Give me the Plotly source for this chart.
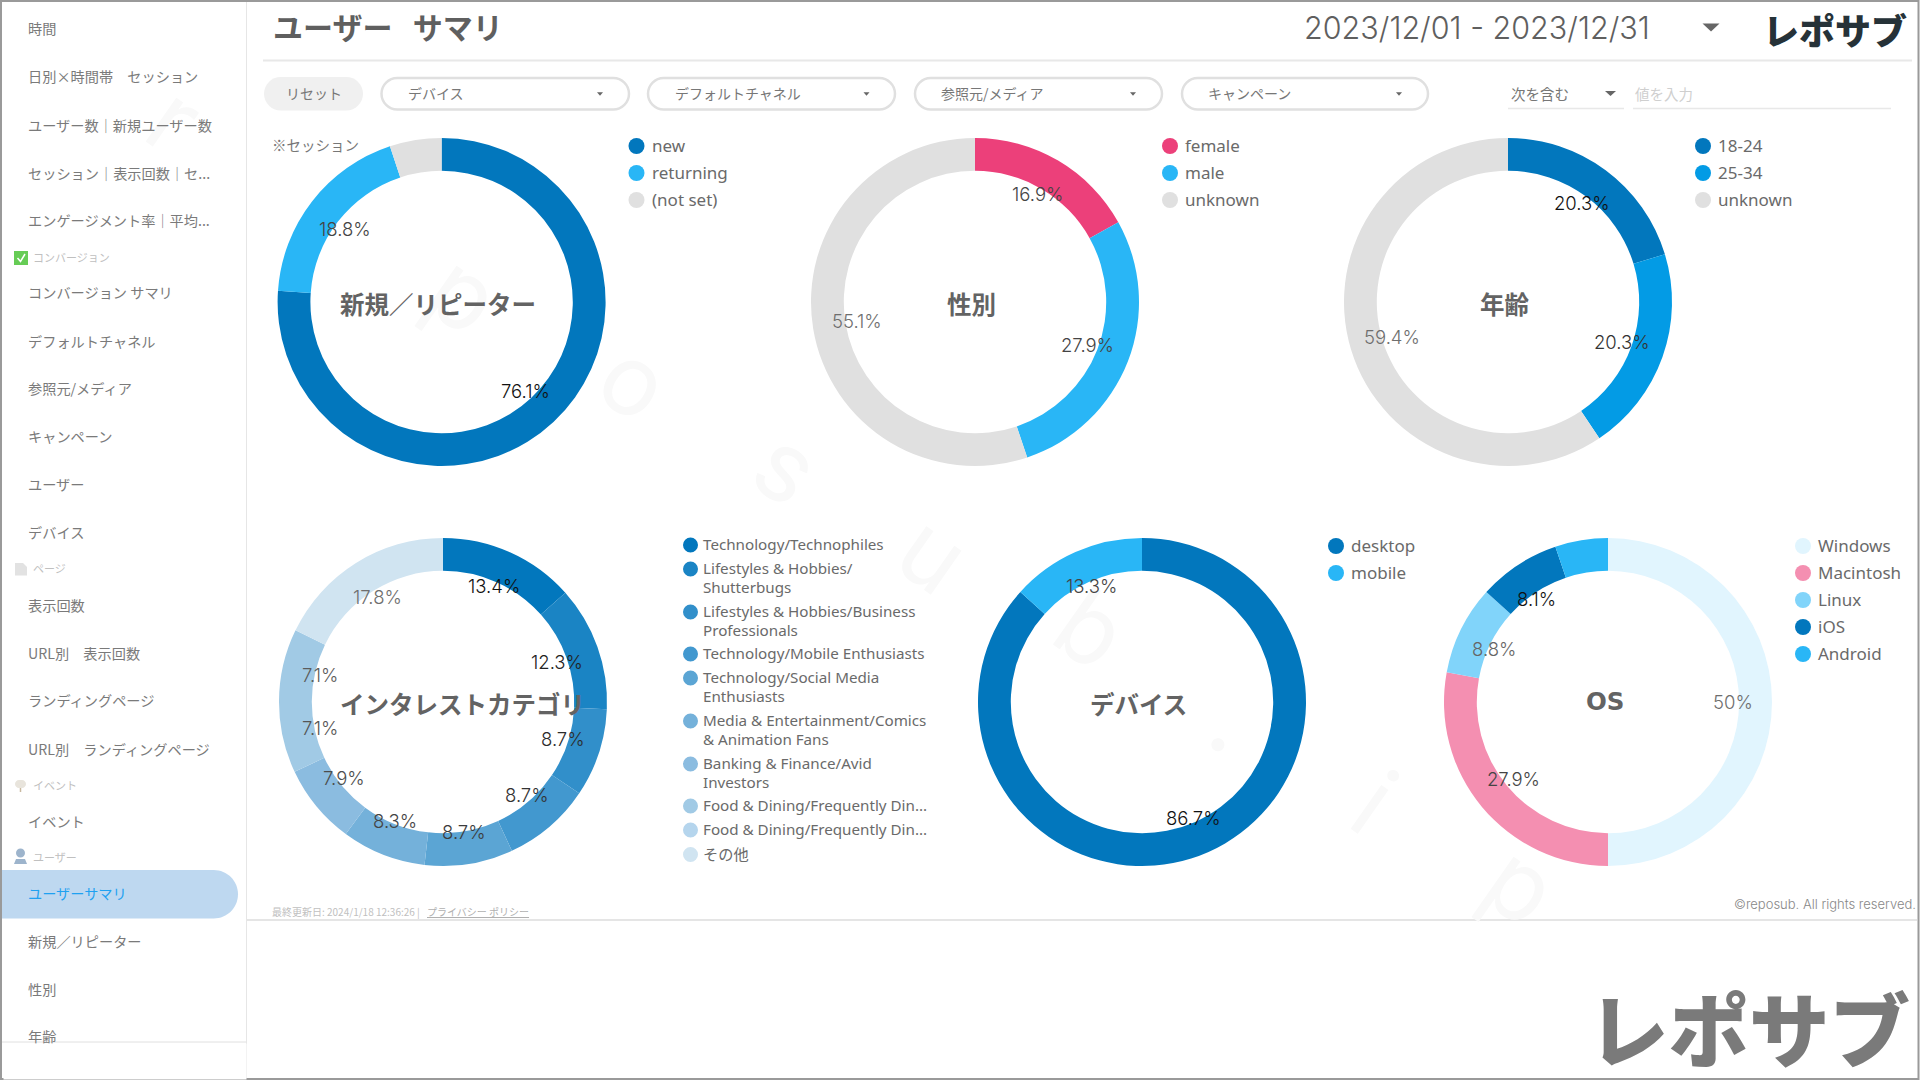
import math

import plotly.graph_objects as go

W, H = 1920, 1080

# chart values
user_names = ['new', 'returning', '(not set)']
user_values = [76.1, 18.8, 5.1]
gender_names = ['female', 'male', 'unknown']
gender_values = [16.9, 27.9, 55.1]
age_names = ['18-24', '25-34', 'unknown']
age_values = [20.3, 20.3, 59.4]
interest_names = [
    'Technology/Technophiles',
    'Lifestyles & Hobbies/<br>Shutterbugs',
    'Lifestyles & Hobbies/Business<br>Professionals',
    'Technology/Mobile Enthusiasts',
    'Technology/Social Media<br>Enthusiasts',
    'Media & Entertainment/Comics<br>& Animation Fans',
    'Banking & Finance/Avid<br>Investors',
    'Food & Dining/Frequently Din...',
    'Food & Dining/Frequently Din...',
    'その他',
]
interest_values = [13.4, 12.3, 8.7, 8.7, 8.7, 8.3, 7.9, 7.1, 7.1, 17.8]
device_names = ['desktop', 'mobile']
device_values = [86.7, 13.3]
os_names = ['Windows', 'Macintosh', 'Linux', 'iOS', 'Android']
os_values = [50, 27.9, 8.8, 8.1, 5.2]

# menu and header text
menu_items = [
    '時間', '日別×時間帯　セッション', 'ユーザー数｜新規ユーザー数', 'セッション｜表示回数｜セ...',
    'エンゲージメント率｜平均...', 'コンバージョン サマリ', 'デフォルトチャネル', '参照元/メディア',
    'キャンペーン', 'ユーザー', 'デバイス', '表示回数', 'URL別　表示回数', 'ランディングページ',
    'URL別　ランディングページ', 'イベント', 'ユーザーサマリ', '新規／リピーター', '性別', '年齢',
]
menu_sections = ['コンバージョン', 'ページ', 'イベント', 'ユーザー']
filter_names = ['デバイス', 'デフォルトチャネル', '参照元/メディア', 'キャンペーン']

# styling
BLUE, SKY, GREY = '#0277bd', '#29b6f6', '#e0e0e0'
JP = 'Noto Sans CJK JP, Noto Sans, sans-serif'
LATIN = 'Noto Sans, Noto Sans CJK JP, sans-serif'
NUM = 'Inter, Lato, sans-serif'
TEXT = '#6a6a6a'

menu_y = [28, 76.5, 124.5, 172.5, 220.5, 292, 340.5, 388, 436, 484, 532, 604.5, 653, 700, 749, 820.5, 892.5, 941, 989, 1036]
section_y = [257, 568, 785, 857]
filter_x = [(381.5, 629, 407, 600), (648, 895, 674, 866.5), (915, 1162, 940, 1133), (1182, 1428, 1207, 1399)]
watermark = [('r', 175, 118), ('p', 465, 293), ('o', 635, 380), ('s', 787, 467), ('u', 934, 553),
             ('b', 1092, 628), ('.', 1235, 720), ('i', 1375, 802), ('p', 1522, 884)]

interest_colors = ['#0277bd', '#1a84c4', '#318fca', '#4298cf', '#5ba5d4', '#74b1da', '#8bbce0', '#a1cae5', '#b5d5ed', '#d0e4f1']
interest_text = ['#111111', '#222222', '#2c2c2c', '#333333', '#3c3c3c', '#444444', '#4c4c4c', '#555555', '#5c5c5c', '#6e6e6e']

charts = [
    dict(names=user_names, values=user_values, colors=[BLUE, SKY, GREY], text=['#111111', '#444444', '#666666'],
         cx=441.6, cy=302, title='新規／リピーター', tx=438, ty=303,
         lx=636.5, ltx=650.5, ly=[146, 173, 200]),
    dict(names=gender_names, values=gender_values, colors=['#ec407a', SKY, GREY], text=['#444444', '#444444', '#6e6e6e'],
         cx=975, cy=302, title='性別', tx=971.5, ty=303,
         lx=1170, ltx=1184, ly=[146, 173, 200]),
    dict(names=age_names, values=age_values, colors=[BLUE, '#039be5', GREY], text=['#111111', '#333333', '#6e6e6e'],
         cx=1508, cy=302, title='年齢', tx=1505, ty=303,
         lx=1703, ltx=1717, ly=[146, 173, 200]),
    dict(names=interest_names, values=interest_values, colors=interest_colors, text=interest_text,
         cx=443, cy=702, title='インタレストカテゴリ', tx=462, ty=703,
         lx=690.5, ltx=701.5, ly=[545, 569, 612, 654, 678, 721, 764, 806, 830, 854.5], lsize=15.2),
    dict(names=device_names, values=device_values, colors=[BLUE, SKY], text=['#111111', '#444444'],
         cx=1142, cy=702, title='デバイス', tx=1138, ty=703.5,
         lx=1336, ltx=1350, ly=[546, 573]),
    dict(names=os_names, values=os_values, colors=['#e1f5fe', '#f48fb1', '#81d4fa', BLUE, SKY],
         text=['#6e6e6e', '#444444', '#666666', '#111111', '#444444'],
         cx=1608, cy=702, title='OS', tx=1605, ty=701, tfont='DejaVu Sans',
         lx=1803, ltx=1817, ly=[546, 573, 600, 627, 654]),
]
R = 164

annotations = []
shapes = []


def px(x):
    return x / W


def py(y):
    return 1 - y / H


def put(text, x, y, size=14, color=TEXT, family=JP, anchor='left', yanchor='middle', weight=None, angle=0, **kw):
    font = dict(size=size, color=color, family=family)
    if weight:
        font['weight'] = weight
    annotations.append(dict(text=text, x=px(x), y=py(y), xref='paper', yref='paper', showarrow=False,
                            xanchor=anchor, yanchor=yanchor, align='left', font=font, textangle=angle,
                            borderpad=0, **kw))


def line(x0, y0, x1, y1, color, width=1):
    shapes.append(dict(type='line', xref='paper', yref='paper', x0=px(x0), y0=py(y0), x1=px(x1), y1=py(y1),
                       line=dict(color=color, width=width)))


def path(d, fill=None, color=None, width=0):
    shape = dict(type='path', xref='paper', yref='paper', path=d, line=dict(color=color or 'rgba(0,0,0,0)', width=width))
    if fill:
        shape['fillcolor'] = fill
    shapes.append(shape)


def poly(points, close=True):
    d = 'M ' + ' L '.join(f'{px(x)},{py(y)}' for x, y in points)
    return d + (' Z' if close else '')


def pill(x0, y0, x1, y1, left=True):
    # rounded box, built with curves because shape paths do not take arcs
    r = (y1 - y0) / 2
    k = r * 0.45
    pts = []
    if left:
        pts.append(f'M {px(x0 + r)},{py(y0)}')
    else:
        pts.append(f'M {px(x0)},{py(y0)}')
    pts.append(f'L {px(x1 - r)},{py(y0)}')
    pts.append(f'C {px(x1 - k)},{py(y0)} {px(x1)},{py(y0 + k)} {px(x1)},{py(y0 + r)}')
    pts.append(f'C {px(x1)},{py(y1 - k)} {px(x1 - k)},{py(y1)} {px(x1 - r)},{py(y1)}')
    if left:
        pts.append(f'L {px(x0 + r)},{py(y1)}')
        pts.append(f'C {px(x0 + k)},{py(y1)} {px(x0)},{py(y1 - k)} {px(x0)},{py(y0 + r)}')
        pts.append(f'C {px(x0)},{py(y0 + k)} {px(x0 + k)},{py(y0)} {px(x0 + r)},{py(y0)}')
    else:
        pts.append(f'L {px(x0)},{py(y1)}')
    return ' '.join(pts) + ' Z'


def arrow(x, y, half=4, tall=4, color='#666666'):
    path(poly([(x - half, y - tall / 2), (x + half, y - tall / 2), (x, y + tall / 2)]), fill=color)


def dot(x, y, r, color):
    shapes.append(dict(type='circle', xref='paper', yref='paper', x0=px(x - r), x1=px(x + r), y0=py(y - r), y1=py(y + r),
                       fillcolor=color, line=dict(width=0)))


# watermark goes first so everything else sits on top of it
for ch, x, y in watermark:
    put(ch, x, y, size=98, color='#f9f9f9', family=NUM, anchor='center', angle=35)

# sidebar
path(pill(2, 870, 238, 918.5, left=False), fill='#bed8f0')
line(246.5, 0, 246.5, H, '#e6e6e6')
line(2, 1042, 246, 1042, '#e0e0e0')
for text, y in zip(menu_items, menu_y):
    put(text, 27, y, size=14.2, color='#1ea1f1' if text == 'ユーザーサマリ' else '#7a7a7a')
# cover the clipped last item below the divider
annotations.append(dict(text=' ', x=px(3), y=py(1043), xref='paper', yref='paper', showarrow=False, xanchor='left',
                        yanchor='top', width=242, height=35, bgcolor='#ffffff', borderpad=0))
for text, y in zip(menu_sections, section_y):
    put(text, 32, y, size=11, color='#c0c0c0')

# section icons
shapes.append(dict(type='rect', xref='paper', yref='paper', x0=px(14), x1=px(28), y0=py(251), y1=py(265),
                   fillcolor='#66cc55', line=dict(width=0)))
path(poly([(17.5, 258), (20.5, 261.5), (25, 254)], close=False), color='#ffffff', width=1.5)
path(poly([(15, 563), (23, 563), (27, 567), (27, 575.5), (15, 575.5)]), fill='#e2e2e2')
path(pill(15, 780, 26, 788), fill='#e8e4dc')
line(20.5, 788, 20.5, 792, '#c9b9a0', 1.5)
dot(20.5, 853, 4.5, '#9db4cc')
path(poly([(14, 864), (16, 859), (25, 859), (27, 864)]), fill='#9db4cc')
path(poly([(222, 1062), (216, 1068.5), (222, 1075)], close=False), color='#555555', width=1.8)

# header
put('ユーザー\u00a0\u00a0\u00a0サマリ', 272, 26, size=30, color='#5f5f5f', weight=700)
line(263, 60.5, 1912, 60.5, '#e8e8e8', 2)
put('2023/12/01 - 2023/12/31', 1303, 28, size=30.5, color='#5f5f5f', family=NUM, weight=300)
arrow(1711, 27.5, half=8.5, tall=8, color='#666666')
put('レポサブ', 1762, 29, size=36, color='#263238', weight=900)

# filter row
path(pill(264, 77, 363, 110.5), fill='#f0f0f0')
put('リセット', 313.5, 93.5, size=14, color='#777777', anchor='center')
for name, (x0, x1, tx, ax) in zip(filter_names, filter_x):
    path(pill(x0, 78, x1, 109.5), color='#e0e0e0', width=2.5)
    put(name, tx, 93.5, size=14, color='#777777')
    arrow(ax, 94, half=3, tall=3.5, color='#666666')
put('次を含む', 1509.5, 93, size=14.5, color='#777777')
arrow(1610.5, 93.5, half=5.5, tall=5)
line(1508, 108.5, 1624, 108.5, '#e8e8e8', 1.5)
put('値を入力', 1634, 93, size=14.5, color='#cfcfcf')
line(1633, 108.5, 1891, 108.5, '#e8e8e8', 1.5)
put('※セッション', 270.5, 144.5, size=14.5, color='#777777')

# footer
line(247, 920, 1917, 920, '#dddddd', 1.5)
put('最終更新日: 2024/1/18 12:36:26 |', 271, 911, size=10, color='#c0c0c0')
put('<u>プライバシー ポリシー</u>', 426, 911, size=10, color='#b0b0b0')
put('©reposub. All rights reserved.', 1917, 904, size=13, color='#888888', family=NUM, anchor='right', weight=300)
put('レポサブ', 1749, 1031.5, size=80.5, color='#7a7a7a', family='Inter, Noto Sans CJK JP', anchor='center', weight=900)

fig = go.Figure()

for c in charts:
    fig.add_trace(go.Pie(
        labels=c['names'], values=c['values'], sort=False, direction='clockwise', rotation=0, hole=0.8,
        textinfo='none', hoverinfo='label+percent', showlegend=False,
        marker=dict(colors=c['colors'], line=dict(width=0)),
        domain=dict(x=[px(c['cx'] - R), px(c['cx'] + R)], y=[py(c['cy'] + R), py(c['cy'] - R)]),
    ))

    # percent labels follow the middle of each slice; longer text sits further in,
    # and labels near the top and bottom of the ring sit a little further out
    total = sum(c['values'])
    done = 0
    for v, tc in zip(c['values'], c['text']):
        mid = (done + v / 2) / total * 2 * math.pi
        done += v
        if v >= 6:
            label = f'{v:g}%'
            up = abs(math.cos(mid))
            rx = (119 if len(label) > 4 else 124.5) + 6 * up
            ry = 119 + 14 * up ** 6
            put(label, c['cx'] + rx * math.sin(mid), c['cy'] - ry * math.cos(mid), size=18.5, color=tc,
                family=NUM, anchor='center', weight=300)

    put(c['title'], c['tx'], c['ty'], size=24.5, color='#636363', family=c.get('tfont', JP), anchor='center', weight=700)

    # legend, wrapped names get one text per line
    lsize = c.get('lsize', 17)
    small = lsize < 16
    for name, color, y in zip(c['names'], c['colors'], c['ly']):
        dot(c['lx'], y, 7.5 if small else 8, color)
        for i, part in enumerate(name.split('<br>')):
            put(part, c['ltx'], y - 0.7 + i * 18.7, size=lsize, family=LATIN)

# grey frame of the screenshot
shapes.append(dict(type='rect', xref='paper', yref='paper', x0=px(1), y0=py(1), x1=px(1918.5), y1=py(1079),
                   line=dict(color='#9a9a9a', width=2)))

fig.update_layout(
    width=W,
    height=H,
    margin=dict(l=0, r=0, t=0, b=0),
    paper_bgcolor='#ffffff',
    plot_bgcolor='#ffffff',
    showlegend=False,
    annotations=annotations,
    shapes=shapes,
)

fig.write_html('out.html', config={'displayModeBar': False},
               post_script="document.body.style.margin='0';document.body.style.overflow='hidden';")
